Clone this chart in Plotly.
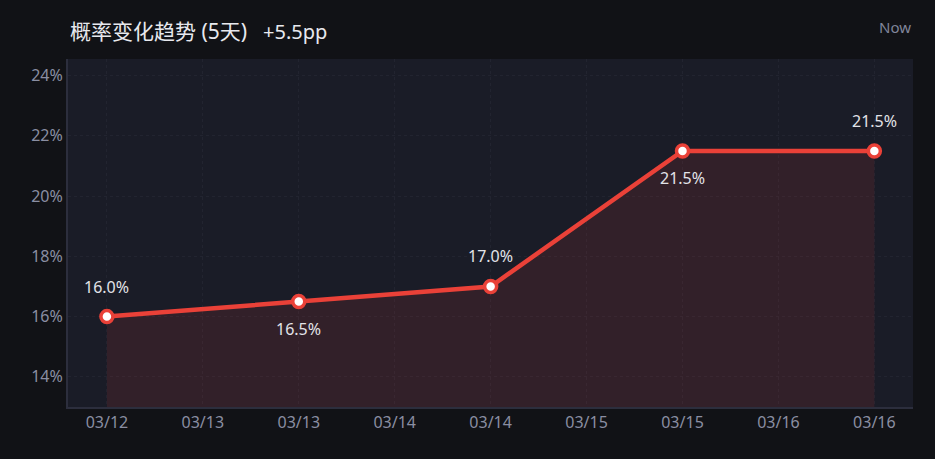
import plotly.graph_objects as go

# dados: probabilidade por dia (meio-dia de cada dia)
dates = ['2025-03-12 12:00', '2025-03-13 12:00', '2025-03-14 12:00', '2025-03-15 12:00', '2025-03-16 12:00']
probs = [16.0, 16.5, 17.0, 21.5, 21.5]
label_side = [1, -1, 1, -1, 1]  # acima / abaixo do ponto

title_text = "概率变化趋势 (5天)"
change_text = "+5.5pp"

font = "Noto Sans, Noto Sans CJK SC, sans-serif"
red = '#ea4138'

fig = go.Figure()
fig.add_trace(go.Scatter(
    x=dates, y=probs, mode='lines+markers',
    line=dict(color=red, width=4.5),
    marker=dict(size=12, color='white', line=dict(color=red, width=3.5)),
    fill='tozeroy', fillcolor='rgba(234,65,56,0.12)',
    hoverinfo='skip', showlegend=False))

# rótulos dos pontos
for d, p, s in zip(dates, probs, label_side):
    fig.add_annotation(x=d, y=p, text=f"{p:.1f}%", showarrow=False,
                       yshift=30 if s > 0 else -27, font=dict(size=16, color='#e2e3e8', family=font))

fig.add_annotation(xref='paper', yref='paper', x=0, y=1, xanchor='left', yanchor='bottom',
                   yshift=12, text=title_text, showarrow=False,
                   font=dict(size=21, color='#e8e9ee', family=font))
fig.add_annotation(xref='paper', yref='paper', x=(261 - 68) / 845, y=1, xanchor='left', yanchor='bottom',
                   yshift=12, text=change_text, showarrow=False,
                   font=dict(size=20, color='#e8e9ee', family=font))
fig.add_annotation(xref='paper', yref='paper', x=1, y=1, xanchor='right', yanchor='bottom',
                   yshift=20, text="Now", showarrow=False,
                   font=dict(size=15, color='#80859a', family=font))

grid = dict(showgrid=True, gridcolor='#222430', griddash='3px,3px', gridwidth=1,
            zeroline=False, showline=True, linecolor='#2c2e3d', linewidth=2,
            tickfont=dict(size=16, color='#8a8ea2', family=font), ticks='')

fig.update_layout(
    width=935, height=459,
    margin=dict(l=68, r=22, t=59, b=52),
    paper_bgcolor='#111216', plot_bgcolor='#1a1c27',
    xaxis=dict(type='date', range=['2025-03-12 07:08', '2025-03-16 16:50'],
               dtick=12 * 3600 * 1000, tick0='2025-03-12 00:00', tickformat='%m/%d', **grid),
    yaxis=dict(range=[13.0, 24.55], dtick=2, ticksuffix='%', **grid),
)
fig.write_html("out.html", config={'displayModeBar': False},
               post_script="document.body.style.margin='0';document.body.style.background='#111216';")
